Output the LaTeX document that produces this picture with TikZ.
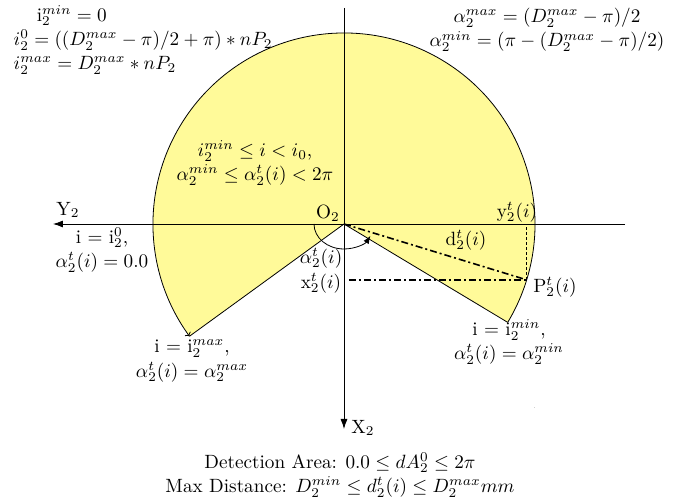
\documentclass[tikz,border=0pt]{standalone}
\usepackage{amsmath}
\usepackage{amssymb}
\usetikzlibrary{arrows.meta}

\begin{document}
\begin{tikzpicture}[x=1pt,y=1pt,line width=0.8pt,
	lbl/.style={inner sep=0.5pt,font=\fontsize{10}{12.7}\selectfont,align=center,scale=1.92},
	dline/.style={line width=1.6pt,dash pattern=on 7pt off 3pt on 2pt off 3pt},
	dotline/.style={line width=1.6pt,dash pattern=on 3pt off 2pt},
	axis/.style={-{Latex[length=10pt,width=7pt]}}]
			\useasboundingbox (-344,-278) rectangle (345,224);
			% points
			\coordinate (O) at (0,0);
			\coordinate (Re) at (-31:191pt);
			\coordinate (Le) at (216:191pt);
			\coordinate (P) at (-17:191pt);
			\coordinate (Py) at (P |- O);
			\coordinate (Px) at (O |- P);
			% detection area
			\fill[color=yellow!40] (O) -- (Re) arc[start angle=-31,end angle=216,radius=191pt] -- cycle;
			\draw (Re) -- (O) -- (Le);
			\draw[->] (Re) arc[start angle=-31,end angle=216,radius=191pt];
			% axes
			\coordinate (YR) at (281,0);
			\coordinate (YL) at (-291,0);
			\coordinate (XT) at (0,216);
			\coordinate (XB) at (0,-205);
			\draw[axis] (YR) -- (YL);
			\draw[axis] (XT) -- (XB);
			% target point
			\draw[dline] (O) -- (P);
			\draw[dline] ([xshift=5pt]Px) -- (P);
			\draw[dotline] (P) -- (Py);
			\draw[-{Latex[length=8pt,width=6pt]}] (180:30pt and 25pt) arc[start angle=180,end angle=332,x radius=30pt,y radius=25pt];
			% label
			\node[lbl] (oLbl) at (-16,11) {O$_2$};
			\node[lbl] (yLbl) at (-276,14) {Y$_2$};
			\node[lbl] (xLbl) at (19,-204) {X$_2$};
			\node[lbl] (ytLbl) at (173,12) {y$^t_2(i)$};
			\node[lbl] (dtLbl) at (122,-16) {d$^t_2(i)$};
			\node[lbl] (pLbl) at (211,-63) {P$^t_2(i)$};
			\node[lbl] (aLbl) at (-23,-34) {$\alpha^t_2(i)$};
			\node[lbl] (xtLbl) at (-23,-59) {x$^t_2(i)$};
			\node[lbl] (zeroLbl) at (-242,-26) {i $=$ i$^0_2$,\\$\alpha^t_2(i)=0.0$};
			\node[lbl] (maxLbl) at (-152,-137) {i $=$ i$^{max}_2$,\\$\alpha^t_2(i)=\alpha^{max}_2$};
			\node[lbl] (minLbl) at (165,-118) {i $=$ i$^{min}_2$,\\$\alpha^t_2(i)=\alpha^{min}_2$};
			\node[lbl] (areaLbl) at (-89,61) {$i^{min}_2\leq i<i_0$,\\$\alpha^{min}_2\leq\alpha^t_2(i)<2\pi$};
			\node[lbl,align=left,anchor=west] (iLbl) at (-332,184) {\hspace*{12pt}i$^{min}_2=0$\\$i^0_2=((D^{max}_2-\pi)/2+\pi)*nP_2$\\$i^{max}_2=D^{max}_2*nP_2$};
			\node[lbl] (alLbl) at (203,194) {$\alpha^{max}_2=(D^{max}_2-\pi)/2$\\$\alpha^{min}_2=(\pi-(D^{max}_2-\pi)/2)$};
			\node[lbl] (capLbl) at (-4,-251) {Detection Area: $0.0\leq dA^0_2\leq 2\pi$\\Max Distance: $D^{min}_2\leq d^t_2(i)\leq D^{max}_2mm$};
			\node[inner sep=0pt,font=\tiny] (dot) at (191,-184) {.};
		\end{tikzpicture}
\end{document}
